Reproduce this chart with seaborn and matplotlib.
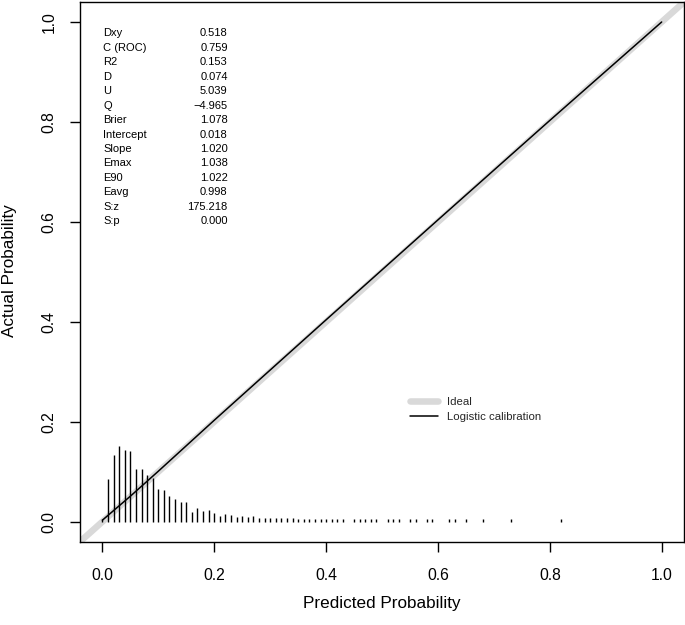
import matplotlib
matplotlib.use("Agg")
import matplotlib.pyplot as plt
import seaborn as sns

# ---------- DATOS ----------
# histograma de espigas de las probabilidades predichas
spike_x = [0.00, 0.01, 0.02, 0.03, 0.04, 0.05, 0.06, 0.07, 0.08, 0.09,
           0.10, 0.11, 0.12, 0.13, 0.14, 0.15, 0.16, 0.17, 0.18, 0.19,
           0.20, 0.21, 0.22, 0.23, 0.24, 0.25, 0.26, 0.27, 0.28, 0.29,
           0.30, 0.31, 0.32, 0.33, 0.34, 0.35, 0.36, 0.37, 0.38, 0.39,
           0.40, 0.41, 0.42, 0.43, 0.45, 0.46, 0.47, 0.48, 0.49, 0.51,
           0.52, 0.53, 0.55, 0.56, 0.58, 0.59, 0.62, 0.63, 0.65, 0.68,
           0.73, 0.82]
spike_h = [0.006, 0.086, 0.133, 0.151, 0.143, 0.141, 0.105, 0.105, 0.093, 0.088,
           0.066, 0.063, 0.051, 0.046, 0.039, 0.039, 0.019, 0.028, 0.022, 0.023,
           0.017, 0.012, 0.015, 0.013, 0.010, 0.011, 0.010, 0.011, 0.008, 0.007,
           0.008, 0.008, 0.008, 0.008, 0.007, 0.005, 0.005, 0.005, 0.005, 0.005,
           0.005, 0.005, 0.005, 0.005, 0.005, 0.005, 0.005, 0.005, 0.005, 0.005,
           0.005, 0.005, 0.005, 0.005, 0.005, 0.005, 0.005, 0.005, 0.005, 0.005,
           0.005, 0.005]

# curva de calibracion logistica
logit_x = [0.0, 0.05, 0.1, 0.2, 0.4, 0.6, 0.8, 1.0]
logit_y = [0.003, 0.051, 0.101, 0.203, 0.404, 0.604, 0.803, 1.0]

# estadisticos
stat_names = ["Dxy", "C (ROC)", "R2", "D", "U", "Q", "Brier", "Intercept",
              "Slope", "Emax", "E90", "Eavg", "S:z", "S:p"]
stat_values = ["0.518", "0.759", "0.153", "0.074", "5.039", "\u22124.965", "1.078",
               "0.018", "1.020", "1.038", "1.022", "0.998", "175.218", "0.000"]

ticks = [0.0, 0.2, 0.4, 0.6, 0.8, 1.0]
tick_labels = ["0.0", "0.2", "0.4", "0.6", "0.8", "1.0"]

# ---------- ESTILO ----------
sns.set_theme(style="white")
plt.rcParams["font.family"] = ["Liberation Sans", "DejaVu Sans"]

fig = plt.figure(figsize=(6.85, 6.25), dpi=100)
ax = fig.add_axes([0.1168, 0.1333, 0.8818, 0.8635])

# ---------- GRAFICO ----------
ax.axline((0, 0), (1, 1), color="#d9d9d9", lw=4.7, label="Ideal", zorder=1)
ax.vlines(spike_x, 0, spike_h, color="black", lw=1.0, zorder=2)
sns.lineplot(x=logit_x, y=logit_y, color="black", lw=1.1,
             label="Logistic calibration", ax=ax, zorder=3)

ax.set_xlim(-0.04, 1.04)
ax.set_ylim(-0.04, 1.04)
ax.set_xticks(ticks, tick_labels)
ax.set_yticks(ticks, tick_labels)
ax.tick_params(axis="both", direction="out", length=7, width=1, color="black",
               labelsize=11.3, labelcolor="black", bottom=True, left=True)
ax.tick_params(axis="x", pad=12)
ax.tick_params(axis="y", pad=10, labelrotation=90)
for lab in ax.get_yticklabels():
    lab.set_va("center")

for sp in ax.spines.values():
    sp.set_color("black")
    sp.set_linewidth(1.0)

ax.set_xlabel("Predicted Probability", fontsize=12.3, color="black")
ax.set_ylabel("Actual Probability", fontsize=12.3, color="black")
ax.xaxis.set_label_coords(0.5, -0.10)
ax.yaxis.set_label_coords(-0.104, 0.503)

# tabla de estadisticos
for i, (name, val) in enumerate(zip(stat_names, stat_values)):
    yy = 0.977 - i * 0.0289
    ax.text(0.002, yy, name, fontsize=8, va="center", ha="left", color="black")
    ax.text(0.224, yy, val, fontsize=8, va="center", ha="right", color="black")

ax.legend(loc="upper left", bbox_to_anchor=(0.546, 0.2681), frameon=False,
          fontsize=8.2, handlelength=2.45, handletextpad=0.8,
          labelspacing=0.41, borderpad=0, borderaxespad=0)

fig.savefig("out.png", dpi=100)
plt.close()
